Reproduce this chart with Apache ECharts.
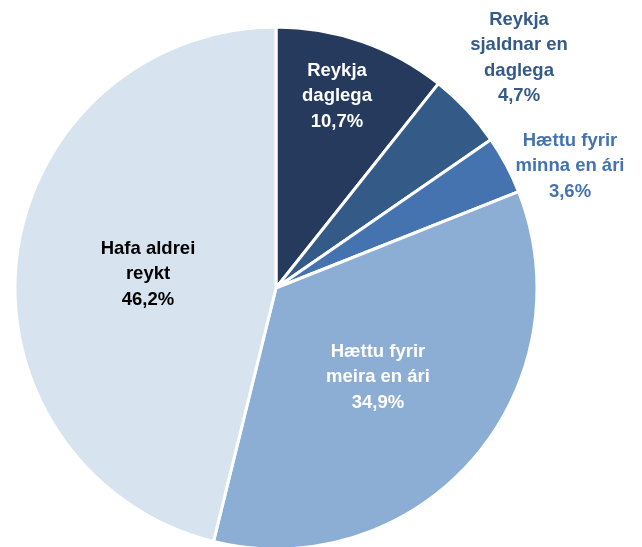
<!DOCTYPE html>
<html>
<head>
<meta charset="utf-8">
<script src="https://cdn.jsdelivr.net/npm/echarts@6/dist/echarts.min.js"></script>
<style>html,body{margin:0;padding:0;background:#fff}#c{width:642px;height:547px}</style>
</head>
<body>
<div id="c"></div>
<script>
const categories = ['Reykja\ndaglega', 'Reykja\nsjaldnar en\ndaglega', 'Hættu fyrir\nminna en ári', 'Hættu fyrir\nmeira en ári', 'Hafa aldrei\nreykt'];
const values = [10.7, 4.7, 3.6, 34.9, 46.2];
const colors = ['#253a5c', '#345a88', '#4473b0', '#8caed5', '#d7e3ef'];
const labelColors = ['#ffffff', '#345a88', '#4473b0', '#ffffff', '#000000'];

const labelPos = [[337, 96], [519, 58], [570, 166], [378, 377], [148, 274]];

const chart = echarts.init(document.getElementById('c'));
chart.setOption({
  animation: false,
  series: [{
    type: 'pie',
    center: [276, 288],
    radius: [0, 261],
    startAngle: 90,
    clockwise: true,
    avoidLabelOverlap: false,
    itemStyle: { borderColor: '#ffffff', borderWidth: 3 },
    label: {
      show: true,
      position: 'inside',
      fontFamily: 'Liberation Sans, Arial, sans-serif',
      fontWeight: 'bold',
      fontSize: 18.5,
      lineHeight: 25.5,
      align: 'center',
      formatter: p => p.name + '\n' + p.value.toFixed(1).replace('.', ',') + '%'
    },
    labelLine: { show: false },
    labelLayout: p => ({ x: labelPos[p.dataIndex][0], y: labelPos[p.dataIndex][1], align: 'center', verticalAlign: 'middle' }),
    data: categories.map((c, i) => ({
      name: c,
      value: values[i],
      itemStyle: { color: colors[i] },
      label: { color: labelColors[i] }
    }))
  }]
});
</script>
</body>
</html>
